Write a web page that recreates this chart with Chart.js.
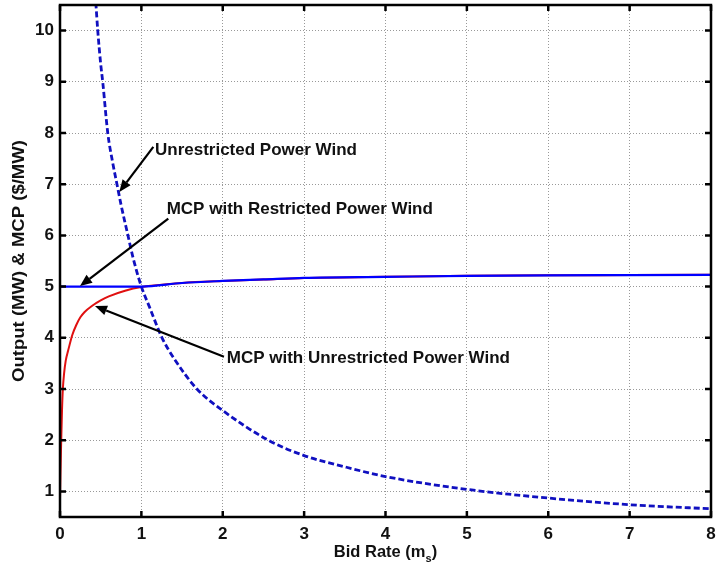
<!DOCTYPE html>
<html>
<head>
<meta charset="utf-8">
<script src="https://cdn.jsdelivr.net/npm/chart.js@4.4.0/dist/chart.umd.min.js"></script>
<style>
  html, body { margin: 0; padding: 0; background: #ffffff; }
  #wrap { width: 716px; height: 572px; position: relative; }
</style>
</head>
<body>
<div id="wrap"><canvas id="c" width="716" height="572"></canvas></div>
<script>
// ---- data ----
const xTickValues = [0, 1, 2, 3, 4, 5, 6, 7, 8];
const yTickValues = [1, 2, 3, 4, 5, 6, 7, 8, 9, 10];

// MCP with Unrestricted Power Wind (red)
const bidRateMcpUnres = [0, 0.005, 0.01, 0.015, 0.025, 0.035, 0.05, 0.07, 0.1, 0.15, 0.2, 0.25, 0.3, 0.4, 0.5, 0.6, 0.8, 1.0, 1.5, 2, 2.5, 3, 4, 5, 6, 7, 8];
const mcpUnrestricted = [0.85, 1.3, 1.65, 2.0, 2.6, 3.0, 3.3, 3.55, 3.75, 4.05, 4.25, 4.4, 4.5, 4.63, 4.73, 4.81, 4.92, 4.99, 5.07, 5.11, 5.14, 5.17, 5.19, 5.21, 5.22, 5.225, 5.23];

// MCP with Restricted Power Wind (blue solid)
const bidRateMcpRes = [0, 0.5, 1.0, 1.5, 2, 2.5, 3, 4, 5, 6, 7, 8];
const mcpRestricted = [5.0, 5.0, 5.0, 5.07, 5.11, 5.14, 5.17, 5.19, 5.21, 5.22, 5.225, 5.23];

// Unrestricted Power Wind (blue dashed)
const bidRatePower = [0.44, 0.464, 0.5, 0.525, 0.587, 0.65, 0.7, 0.75, 0.835, 0.9, 1.0, 1.1, 1.254, 1.4, 1.683, 2.0, 2.56, 3, 3.5, 4, 5, 6, 7, 8];
const powerUnrestricted = [10.55, 10.0, 9.35, 9.0, 8.0, 7.4, 7.0, 6.6, 6.0, 5.55, 5.0, 4.6, 4.0, 3.6, 3.0, 2.58, 2.0, 1.7, 1.48, 1.29, 1.04, 0.87, 0.74, 0.66];

// annotation labels (data units)
const annotationTexts = ['Unrestricted Power Wind', 'MCP with Restricted Power Wind', 'MCP with Unrestricted Power Wind'];
const annotationTextAt = [[1.167, 7.67], [1.311, 6.50], [2.049, 3.60]];
const annotationArrowFrom = [[1.147, 7.73], [1.331, 6.33], [2.015, 3.63]];
const annotationArrowTo = [[0.729, 6.85], [0.246, 5.01], [0.43, 4.62]];

const FONT = '"Liberation Sans", Arial, sans-serif';

function pts(xs, ys) { return xs.map((v, i) => ({ x: v, y: ys[i] })); }

const decor = {
  id: 'decor',
  afterDatasetsDraw(chart) {
    const { ctx, chartArea: a, scales: { x, y } } = chart;
    ctx.save();
    // annotations
    ctx.strokeStyle = '#000'; ctx.fillStyle = '#000';
    annotationTexts.forEach((t, i) => {
      const x1 = x.getPixelForValue(annotationArrowFrom[i][0]), y1 = y.getPixelForValue(annotationArrowFrom[i][1]);
      const x2 = x.getPixelForValue(annotationArrowTo[i][0]), y2 = y.getPixelForValue(annotationArrowTo[i][1]);
      const ang = Math.atan2(y2 - y1, x2 - x1);
      const hl = 12, hw = 5;
      const bx = x2 - hl * Math.cos(ang), by = y2 - hl * Math.sin(ang);
      ctx.lineWidth = 2.2;
      ctx.beginPath(); ctx.moveTo(x1, y1); ctx.lineTo(bx, by); ctx.stroke();
      ctx.beginPath();
      ctx.moveTo(x2, y2);
      ctx.lineTo(bx + hw * Math.sin(ang), by - hw * Math.cos(ang));
      ctx.lineTo(bx - hw * Math.sin(ang), by + hw * Math.cos(ang));
      ctx.closePath(); ctx.fill();
      ctx.font = 'bold 17px ' + FONT;
      ctx.textAlign = 'left'; ctx.textBaseline = 'middle';
      ctx.fillStyle = '#111';
      ctx.fillText(t, x.getPixelForValue(annotationTextAt[i][0]), y.getPixelForValue(annotationTextAt[i][1]));
      ctx.fillStyle = '#000';
    });
    // frame
    ctx.lineWidth = 2.5;
    ctx.strokeStyle = '#000';
    ctx.strokeRect(a.left, a.top, a.width, a.height);
    // inward ticks
    const tl = 6;
    ctx.beginPath();
    xTickValues.forEach(v => {
      const px = x.getPixelForValue(v);
      ctx.moveTo(px, a.bottom); ctx.lineTo(px, a.bottom - tl);
      ctx.moveTo(px, a.top); ctx.lineTo(px, a.top + tl);
    });
    yTickValues.forEach(v => {
      const py = y.getPixelForValue(v);
      ctx.moveTo(a.left, py); ctx.lineTo(a.left + tl, py);
      ctx.moveTo(a.right, py); ctx.lineTo(a.right - tl, py);
    });
    ctx.stroke();
    // x axis title with subscript
    ctx.fillStyle = '#111';
    ctx.textBaseline = 'alphabetic';
    ctx.textAlign = 'left';
    const big = 'bold 16.5px ' + FONT, small = 'bold 11px ' + FONT;
    ctx.font = big; const w1 = ctx.measureText('Bid Rate (m').width; const w3 = ctx.measureText(')').width;
    ctx.font = small; const w2 = ctx.measureText('s').width;
    const cx = (a.left + a.right) / 2;
    const sx = cx - (w1 + w2 + w3) / 2;
    const base = 557;
    ctx.font = big; ctx.fillText('Bid Rate (m', sx, base);
    ctx.font = small; ctx.fillText('s', sx + w1, base + 5);
    ctx.font = big; ctx.fillText(')', sx + w1 + w2, base);
    // y axis title
    ctx.translate(24, (a.top + a.bottom) / 2);
    ctx.rotate(-Math.PI / 2);
    ctx.scale(1.09, 1);
    ctx.textAlign = 'center';
    ctx.font = 'bold 17px ' + FONT;
    ctx.fillText('Output (MW) & MCP ($/MW)', 0, 0);
    ctx.restore();
  }
};

new Chart(document.getElementById('c'), {
  type: 'scatter',
  data: {
    datasets: [
      {
        label: 'MCP with Restricted Power Wind',
        data: pts(bidRateMcpRes, mcpRestricted),
        showLine: true, borderColor: '#0000ff', borderWidth: 2.2,
        pointRadius: 0, cubicInterpolationMode: 'monotone'
      },
      {
        label: 'Unrestricted Power Wind',
        data: pts(bidRatePower, powerUnrestricted),
        showLine: true, borderColor: '#1010c0', borderWidth: 2.8, borderDash: [6, 3],
        pointRadius: 0, cubicInterpolationMode: 'monotone'
      },
      {
        label: 'MCP with Unrestricted Power Wind',
        data: pts(bidRateMcpUnres, mcpUnrestricted),
        showLine: true, borderColor: '#e01010', borderWidth: 2,
        pointRadius: 0, cubicInterpolationMode: 'monotone'
      }
    ]
  },
  options: {
    responsive: false,
    animation: false,
    devicePixelRatio: 1,
    layout: { padding: { left: 0, top: 5, right: 5, bottom: 0 } },
    plugins: { legend: { display: false }, tooltip: { enabled: false } },
    scales: {
      x: {
        type: 'linear', min: 0, max: 8,
        afterBuildTicks: s => { s.ticks = xTickValues.map(v => ({ value: v })); },
        afterFit: s => { s.height = 55; s.paddingLeft = 0; s.paddingRight = 0; },
        grid: { color: '#999999', lineWidth: 1, drawTicks: false },
        border: { display: false, dash: [1, 2] },
        ticks: { color: '#111', font: { family: FONT, size: 17, weight: 'bold' }, padding: 7, maxRotation: 0 }
      },
      y: {
        type: 'linear', min: 0.5, max: 10.5,
        afterBuildTicks: s => { s.ticks = yTickValues.map(v => ({ value: v })); },
        afterFit: s => { s.width = 60; s.paddingTop = 0; s.paddingBottom = 0; },
        grid: { color: '#999999', lineWidth: 1, drawTicks: false },
        border: { display: false, dash: [1, 2] },
        ticks: { color: '#111', font: { family: FONT, size: 17, weight: 'bold' }, padding: 6 }
      }
    }
  },
  plugins: [decor]
});
</script>
</body>
</html>
